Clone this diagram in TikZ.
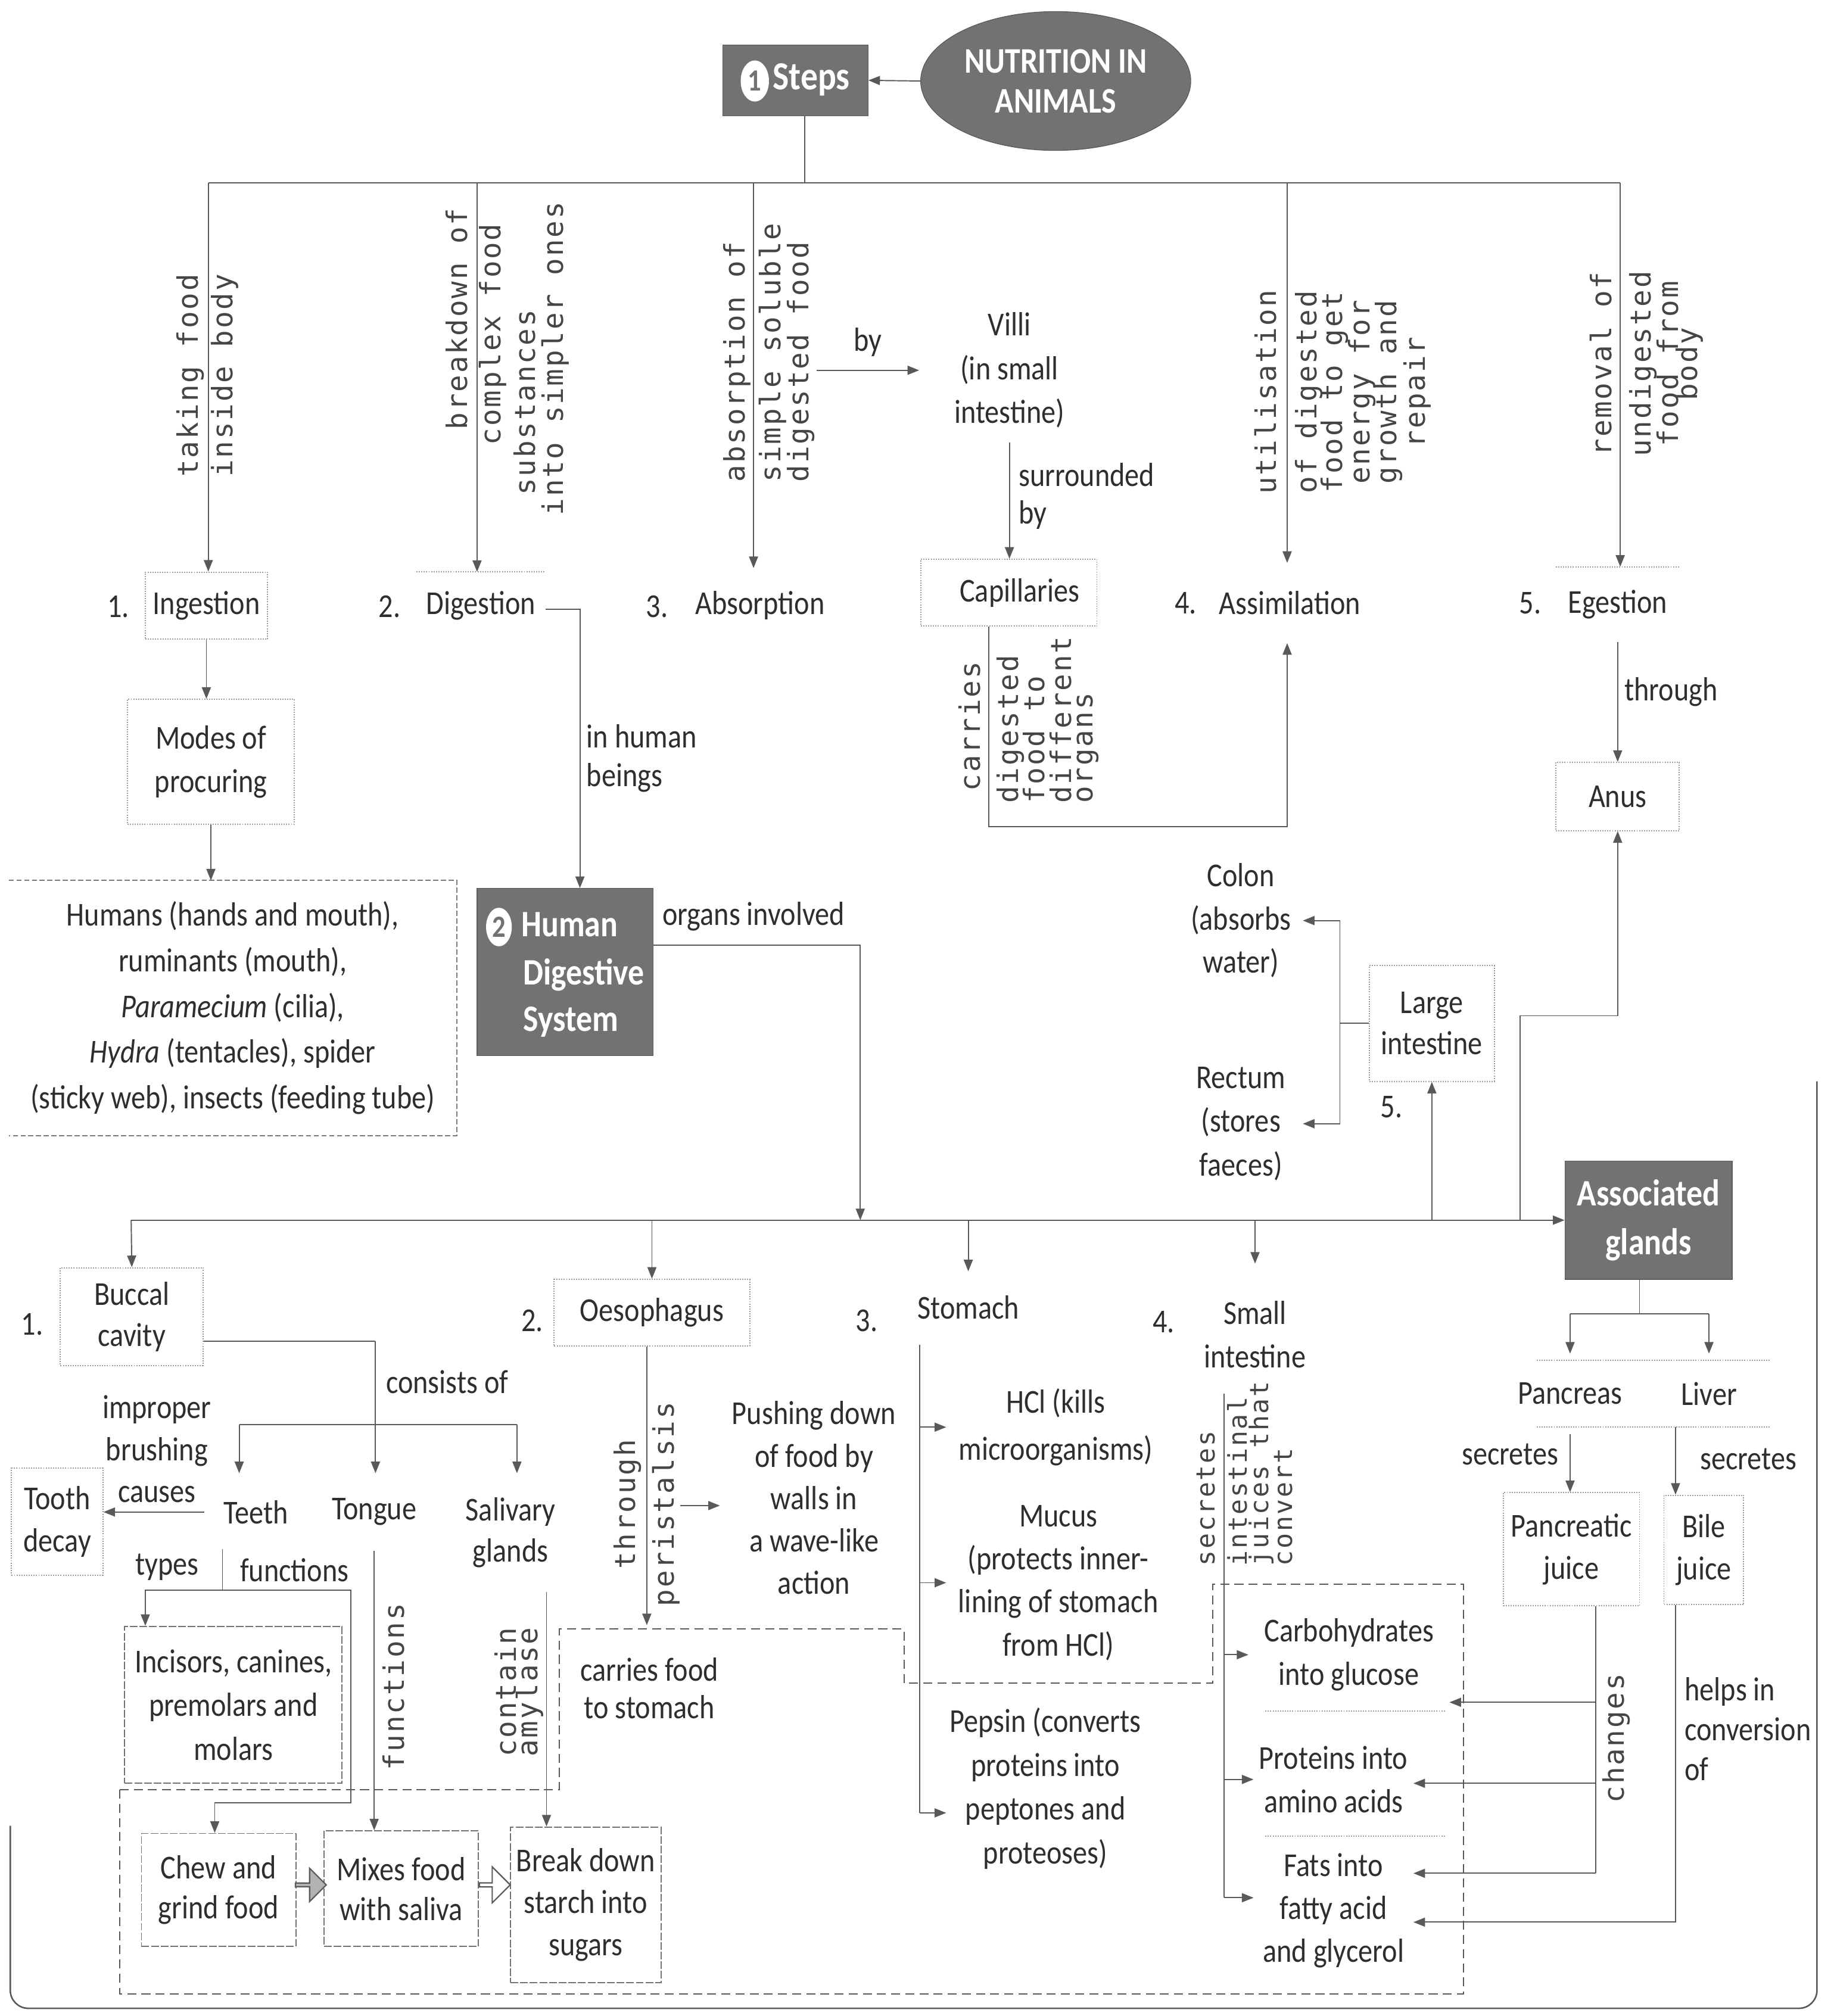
\documentclass[tikz,border=0pt]{standalone}
\usepackage{fontspec}
\setmainfont{Carlito}[FakeStretch=0.86]
\newfontfamily\monof{DejaVu Sans Mono}[LetterSpace=6]
\usetikzlibrary{arrows.meta,shapes.geometric,shapes.arrows}
\definecolor{txt}{HTML}{2E2E2E}
\definecolor{rtc}{HTML}{454545}
\definecolor{lc}{HTML}{595959}
\definecolor{dk}{HTML}{727272}
\definecolor{faint}{HTML}{9C9C9C}
\newcommand\rlab[5][]{\node[rt,#1] (#2) at (#3,#4) {#5};}
\begin{document}
\begin{tikzpicture}[x=1pt,y=-1pt,
  every node/.style={text=txt, font=\fontsize{26}{34}\selectfont},
  tx/.style={align=center, inner sep=0pt},
  ln/.style={draw=lc, line width=0.9pt},
  ar/.style={ln, -{Triangle[length=9pt,width=7pt]}},
  rt/.style={rotate=90, font=\monof\fontsize{22}{22}\selectfont, text=rtc, inner sep=0pt},
  dotbox/.style={draw=faint, line width=0.9pt, densely dotted},
  dashbox/.style={draw=lc!80, line width=0.9pt, dash pattern=on 4pt off 2pt},
  solbox/.style={draw=lc!85, line width=0.9pt, dash pattern=on 6pt off 1.5pt},
  dashbig/.style={draw=lc, line width=1pt, dash pattern=on 7pt off 4pt},
  dark/.style={fill=dk, draw=dk!80!black, line width=0.6pt},
  wt/.style={text=white, font=\bfseries\fontsize{29}{37}\selectfont, inner sep=0pt, align=center},
  cnum/.style={ellipse, fill=white, inner sep=0pt, text=dk, font=\bfseries\fontsize{24}{24}\selectfont},
]
\useasboundingbox (0,0) rectangle (1426,1568);

% ---------- top ----------
\node[ellipse, dark, wt, font=\bfseries\fontsize{28}{31}\selectfont, minimum width=210, minimum height=108] (nut) at (821,63) {NUTRITION IN\\ANIMALS};
\node[dark, minimum width=113, minimum height=55] (steps) at (618.5,62.5) {};
\node[cnum, minimum width=22, minimum height=32] (one) at (587,63) {1};
\node[wt, font=\bfseries\fontsize{31}{31}\selectfont] (stepsT) at (631,62) {Steps};
\draw[ar] (nut.west) -- (steps.east);

\coordinate (tb) at (626,142);
\coordinate (b1) at (162,142);
\coordinate (b2) at (371,142);
\coordinate (b3) at (586,142);
\coordinate (b4) at (1001,142);
\coordinate (b5) at (1260,142);
\draw[ln] (steps.south -| tb) -- (tb);
\draw[ln] (b1) -- (b5);

% level 2 steps
\node[tx, dotbox, minimum width=95, minimum height=52] (ing) at (160.5,471) {Ingestion};
\node[tx] (n1) at (92,472) {1.};
\node[tx, minimum width=100, minimum height=52] (dig) at (374,471) {Digestion};
\draw[dotbox] (dig.north west) -- (dig.north east);
\node[tx] (n2) at (303,472) {2.};
\node[tx, minimum height=58] (abs) at (591,471) {Absorption};
\node[tx] (n3) at (511,472) {3.};
\node[tx, minimum height=62] (asm) at (1003,469) {Assimilation};
\node[tx] (n4) at (922,469) {4.};
\node[tx, minimum width=96, minimum height=58] (eg) at (1258,470) {Egestion};
\draw[dotbox] (eg.north west) -- (eg.north east);
\node[tx] (n5) at (1190,469) {5.};

\draw[ar] (b1) -- (ing.north -| b1);
\draw[ar] (b2) -- (dig.north -| b2);
\draw[ar] (b3) -- (abs.north -| b3);
\draw[ar] (b4) -- (asm.north -| b4);
\draw[ar] (b5) -- (eg.north -| b5);

% rotated labels of the steps
\rlab{ra1}{148}{292}{taking food}
\rlab{ra2}{175}{292}{inside body}
\rlab{rb1}{355}{248}{breakdown of}
\rlab{rb2}{383}{260}{complex food}
\rlab{rb3}{408}{313}{substances}
\rlab{rb4}{432}{279}{into simpler ones}
\rlab[anchor=west]{rc1}{573}{375}{absorption of}
\rlab[anchor=west]{rc2}{601}{375}{simple soluble}
\rlab[anchor=west]{rc3}{623}{375}{digested food}
\rlab{rd1}{984}{305}{utilisation}
\rlab{rd2}{1018}{305}{of digested}
\rlab{rd3}{1038}{305}{food to get}
\rlab{rd4}{1059}{305}{energy for}
\rlab{rd5}{1080}{305}{growth and}
\rlab{rd6}{1102}{305}{repair}
\rlab{re1}{1245}{283}{removal of}
\rlab{re2}{1278}{283}{undigested}
\rlab{re3}{1297}{283}{food from}
\rlab{re4}{1314}{283}{body}

% absorption details
\node[tx] (by1) at (675,266) {by};
\node[tx, minimum width=140, minimum height=112] (villi) at (785,288) {Villi\\(in small\\intestine)};
\coordinate (bys) at (635,288);
\draw[ar] (bys) -- (villi.west |- bys);
\node[tx, anchor=west, align=left, font=\fontsize{26}{29}\selectfont] (sur) at (792,386) {surrounded\\by};
\node[dotbox, minimum width=137, minimum height=52, inner sep=0pt] (cap) at (784.5,461) {};
\node[tx] (capT) at (793,461) {Capillaries};
\draw[ar] (villi.south) -- (villi.south |- cap.north);
\coordinate (cb1) at (769,643);
\coordinate (cb2) at (1001,643);
\draw[ar] (cap.south -| cb1) -- (cb1) -- (cb2) -- (cb2 |- asm.south);
\rlab{rf1}{754}{565}{carries}
\rlab[anchor=west]{rf2}{786}{625}{digested}
\rlab[anchor=west]{rf3}{804}{625}{food to}
\rlab[anchor=west]{rf4}{825}{625}{different}
\rlab[anchor=west]{rf5}{846}{625}{organs}

% egestion details
\node[tx, dotbox, minimum width=96, minimum height=53] (anus) at (1258,619.5) {Anus};
\draw[ar] (eg.south) -- (anus.north);
\node[tx, anchor=west] (thr) at (1263,538) {through};

% ingestion details
\node[tx, dotbox, minimum width=130, minimum height=97] (modes) at (164,592.5) {Modes of\\procuring};
\draw[ar] (ing.south) -- (ing.south |- modes.north);
\node[tx, minimum width=348, minimum height=198, font=\fontsize{26}{35.5}\selectfont] (hum) at (181,784) {Humans (hands and mouth),\\ruminants (mouth),\\\textit{Paramecium} (cilia),\\\textit{Hydra} (tentacles), spider\\(sticky web), insects (feeding tube)};
\draw[dashbox] (hum.north west) -- (hum.north east) -- (hum.south east) -- (hum.south west);
\draw[ar] (modes.south) -- (modes.south |- hum.north);

% human digestive system
\node[dark, minimum width=137, minimum height=130] (hds) at (439.5,756) {};
\node[cnum, minimum width=20, minimum height=30] (two) at (388,721) {2};
\node[wt] (hdsA) at (443,719) {Human};
\node[wt] (hdsB) at (454,758) {Digestive};
\node[wt] (hdsC) at (444,795) {System};
\coordinate (dh) at (451,474);
\draw[ar] (dig.east |- dh) -- (dh) -- (dh |- hds.north);
\node[tx, anchor=west, align=left, font=\fontsize{26}{30}\selectfont] (inh) at (456,590) {in human\\beings};
\node[tx] (oiT) at (586,713) {organs involved};

% organ bar
\coordinate (ob0) at (102,949);
\coordinate (oi) at (669,735);
\node[dark, wt, minimum width=130, minimum height=92, font=\bfseries\fontsize{29}{38}\selectfont] (assoc) at (1282,949) {Associated\\glands};
\draw[ar] (hds.east |- oi) -- (oi) -- (oi |- ob0);
\draw[ar] (ob0) -- (ob0 -| assoc.west);

\node[tx, dotbox, minimum width=111, minimum height=76, font=\fontsize{26}{32}\selectfont] (buccal) at (102.5,1024) {Buccal\\cavity};
\node[tx] (m1) at (25,1030) {1.};
\node[tx, dotbox, minimum width=152, minimum height=52] (oeso) at (507,1021) {Oesophagus};
\node[tx] (m2) at (414,1027) {2.};
\node[tx, minimum width=90, minimum height=56] (stom) at (753,1017) {Stomach};
\node[tx] (m3) at (674,1027) {3.};
\node[tx, minimum height=110] (sint) at (976,1038) {Small\\intestine};
\node[tx] (m4) at (905,1028) {4.};
\node[tx, dotbox, minimum width=97, minimum height=90, font=\fontsize{26}{32}\selectfont] (lint) at (1113.5,796) {Large\\intestine};
\node[tx] (m5) at (1082,861) {5.};

\draw[ar] (ob0) -- (buccal.north);
\draw[ar] (oeso.north |- ob0) -- (oeso.north);
\draw[ar] (stom.north |- ob0) -- (stom.north);
\draw[ar] (sint.north |- ob0) -- (sint.north);
\draw[ar] (lint.south |- ob0) -- (lint.south);
\coordinate (ap1) at (1182,949);
\coordinate (ap2) at (1182,790);
\draw[ar] (ap1) -- (ap2) -- (ap2 -| anus.south) -- (anus.south);

% large intestine parts
\node[tx, minimum width=96, font=\fontsize{26}{33.5}\selectfont] (colon) at (965,716) {Colon\\(absorbs\\water)};
\node[tx, minimum width=96, font=\fontsize{26}{34}\selectfont] (rect) at (965,874) {Rectum\\(stores\\faeces)};
\coordinate (lj) at (1042,796);
\draw[ln] (lint.west) -- (lj);
\draw[ar] (lj) |- (colon.east);
\draw[ar] (lj) |- (rect.east);

% associated glands
\coordinate (ag1) at (1275,1022);
\coordinate (ag2) at (1221,1022);
\coordinate (ag3) at (1329,1022);
\node[tx, minimum height=62] (panc) at (1221,1084) {Pancreas};
\node[tx, minimum height=62] (liver) at (1329,1084) {Liver};
\draw[ln] (assoc.south -| ag1) -- (ag1);
\draw[ln] (ag2) -- (ag3);
\draw[ar] (ag2) -- (panc.north);
\draw[ar] (ag3) -- (liver.north);
\draw[dotbox] (1195,1058) -- (1376,1058);
\draw[dotbox] (1195,1110) -- (1376,1110);
\node[tx, dotbox, minimum width=106, minimum height=88, font=\fontsize{26}{33}\selectfont] (pj) at (1222,1205) {Pancreatic\\juice};
\node[tx, dotbox, minimum width=62, minimum height=85, font=\fontsize{26}{33}\selectfont] (bile) at (1325,1205.5) {Bile\\juice};
\draw[ar] (panc.south) -- (panc.south |- pj.north);
\coordinate (lv) at (1303,1110);
\draw[ar] (lv) -- (lv |- bile.north);
\node[tx, anchor=east] (sec1) at (1212,1131) {secretes};
\node[tx, anchor=west] (sec2) at (1322,1135) {secretes};

% small intestine
\node[tx, minimum width=156] (carb) at (1049,1287) {Carbohydrates\\into glucose};
\node[tx, minimum width=124] (prot) at (1037,1384) {Proteins into\\amino acids};
\node[tx, minimum width=124, font=\fontsize{26}{33.5}\selectfont] (fats) at (1037,1486) {Fats into\\fatty acid\\and glycerol};
\draw[dotbox] (984,1331) -- (1124,1331);
\draw[dotbox] (984,1428) -- (1124,1428);
\coordinate (sb0) at (952,1084);
\coordinate (sb3) at (952,1476);
\draw[ln] (sb0) -- (sb3);
\draw[ar] (sb0 |- carb.west) -- (carb.west);
\draw[ar] (sb0 |- prot.west) -- (prot.west);
\draw[ar] (sb3) -- (sb3 -| fats.west);
\rlab[anchor=west,font=\monof\fontsize{20}{20}\selectfont]{rh1}{938}{1218}{secretes}
\rlab[anchor=west,font=\monof\fontsize{20}{20}\selectfont]{rh2}{962}{1218}{intestinal}
\rlab[anchor=west,font=\monof\fontsize{20}{20}\selectfont]{rh3}{981}{1218}{juices that}
\rlab[anchor=west,font=\monof\fontsize{20}{20}\selectfont]{rh4}{998}{1218}{convert}

\coordinate (pa1) at (1241,1324);
\coordinate (pa2) at (1241,1387);
\coordinate (pjb) at (1241,1457);
\draw[ln] (pj.south -| pjb) -- (pjb);
\draw[ar] (pa1) -- (pa1 -| carb.east);
\draw[ar] (pa2) -- (pa2 -| prot.east);
\draw[ar] (pjb) -- (pjb -| fats.east);
\rlab{rk1}{1257}{1352}{changes}
\coordinate (bb) at (1303,1495);
\draw[ar] (bile.south -| bb) -- (bb) -- (bb -| fats.east);
\node[tx, anchor=west, align=left, font=\fontsize{26}{31}\selectfont] (help) at (1310,1345) {helps in\\conversion\\of};

% stomach
\node[tx, minimum width=170, font=\fontsize{26}{37}\selectfont] (hcl) at (821,1110) {HCl (kills\\microorganisms)};
\node[tx, minimum width=174, font=\fontsize{26}{33.5}\selectfont] (muc) at (823,1231) {Mucus\\(protects inner-\\lining of stomach\\from HCl)};
\node[tx, minimum width=154] (peps) at (813,1391) {Pepsin (converts\\proteins into\\peptones and\\proteoses)};
\coordinate (st0) at (715,1046);
\coordinate (st3) at (715,1410);
\draw[ln] (st0) -- (st3);
\draw[ar] (st0 |- hcl.west) -- (hcl.west);
\draw[ar] (st0 |- muc.west) -- (muc.west);
\draw[ar] (st3) -- (st3 -| peps.west);

% oesophagus
\coordinate (oe1) at (503,1264);
\draw[ar] (oeso.south -| oe1) -- (oe1);
\rlab{rg1}{488}{1170}{through}
\rlab{rg2}{518}{1170}{peristalsis}
\node[tx, minimum width=146, font=\fontsize{26}{33}\selectfont] (push) at (633,1165) {Pushing down\\of food by\\walls in\\a wave-like\\action};
\coordinate (pu) at (529,1171);
\draw[ar] (pu) -- (pu -| push.west);
\node[tx, font=\fontsize{26}{29}\selectfont] (carf) at (505,1313) {carries food\\to stomach};

% buccal cavity
\coordinate (bc1) at (292,1043);
\draw[ln] (buccal.east |- bc1) -- (bc1);
\node[tx, minimum height=60] (tongue) at (291,1176) {Tongue};
\draw[ar] (bc1) -- (bc1 |- tongue.north);
\node[tx, anchor=west] (cons) at (300,1075) {consists of};
\coordinate (bt) at (186,1108);
\coordinate (bs) at (402,1108);
\draw[ln] (bt) -- (bs);
\node[tx, minimum width=80, minimum height=60] (teeth) at (199,1176) {Teeth};
\node[tx, minimum height=92, font=\fontsize{26}{32}\selectfont] (saliv) at (397,1192) {Salivary\\glands};
\draw[ar] (bt) -- (bt |- teeth.north);
\draw[ar] (bs) -- (bs |- saliv.north);
\node[tx, dotbox, minimum width=71, minimum height=83, font=\fontsize{26}{33}\selectfont] (tooth) at (44.5,1183.5) {Tooth\\decay};
\draw[ar] (teeth.west) -- (teeth.west -| tooth.east);
\node[tx, font=\fontsize{26}{32.5}\selectfont] (impr) at (122,1127) {improper\\brushing\\causes};

\coordinate (tf0) at (173,1205);
\coordinate (tf1) at (173,1237);
\draw[ln] (tf0) -- (tf1);
\node[tx] (types) at (130,1219) {types};
\node[tx] (func1) at (229,1221) {functions};
\node[tx, solbox, minimum width=169, minimum height=122] (inc) at (181.5,1326) {Incisors, canines,\\premolars and\\molars};
\node[tx, solbox, minimum width=120, minimum height=88, font=\fontsize{26}{31}\selectfont] (chew) at (170,1470) {Chew and\\grind food};
\node[tx, solbox, minimum width=120, minimum height=90, font=\fontsize{26}{31}\selectfont] (mix) at (312,1469) {Mixes food\\with saliva};
\node[tx, solbox, minimum width=117, minimum height=121, font=\fontsize{26}{32.5}\selectfont] (brk) at (455.5,1481.5) {Break down\\starch into\\sugars};
\coordinate (ty) at (113,1237);
\draw[ar] (tf1) -- (ty) -- (ty |- inc.north);
\coordinate (fu1) at (273,1237);
\coordinate (fu2) at (273,1402);
\coordinate (fu3) at (167,1402);
\draw[ar] (tf1) -- (fu1) -- (fu2) -- (fu3) -- (fu3 |- chew.north);
\draw[ar] (tongue.south) -- (tongue.south |- mix.north);
\rlab{rj1}{306}{1312}{functions}
\coordinate (sa1) at (425,1238);
\draw[ar] (saliv.south -| sa1) -- (sa1 |- brk.north);
\rlab{ri1}{393}{1316}{contain}
\rlab{ri2}{412}{1316}{amylase}

\node[single arrow, draw=lc, line width=1pt, fill=gray!60, minimum height=24, minimum width=26, single arrow head extend=4pt, inner sep=0pt] (ba1) at (241,1466) {};
\node[single arrow, draw=lc, line width=1pt, fill=white, minimum height=24, minimum width=28, single arrow head extend=4pt, inner sep=0pt] (ba2) at (384,1466) {};

% dashed region
\draw[dashbig] (93,1392) -- (435,1392) -- (435,1267) -- (703,1267) -- (703,1309) -- (943,1309) -- (943,1232) -- (1138,1232) -- (1138,1551) -- (93,1551) -- cycle;

% page frame
\draw[draw=lc, line width=1.2pt, rounded corners=14pt] (8,1420) -- (8,1562) -- (1413,1562) -- (1413,841);
\end{tikzpicture}
\end{document}
